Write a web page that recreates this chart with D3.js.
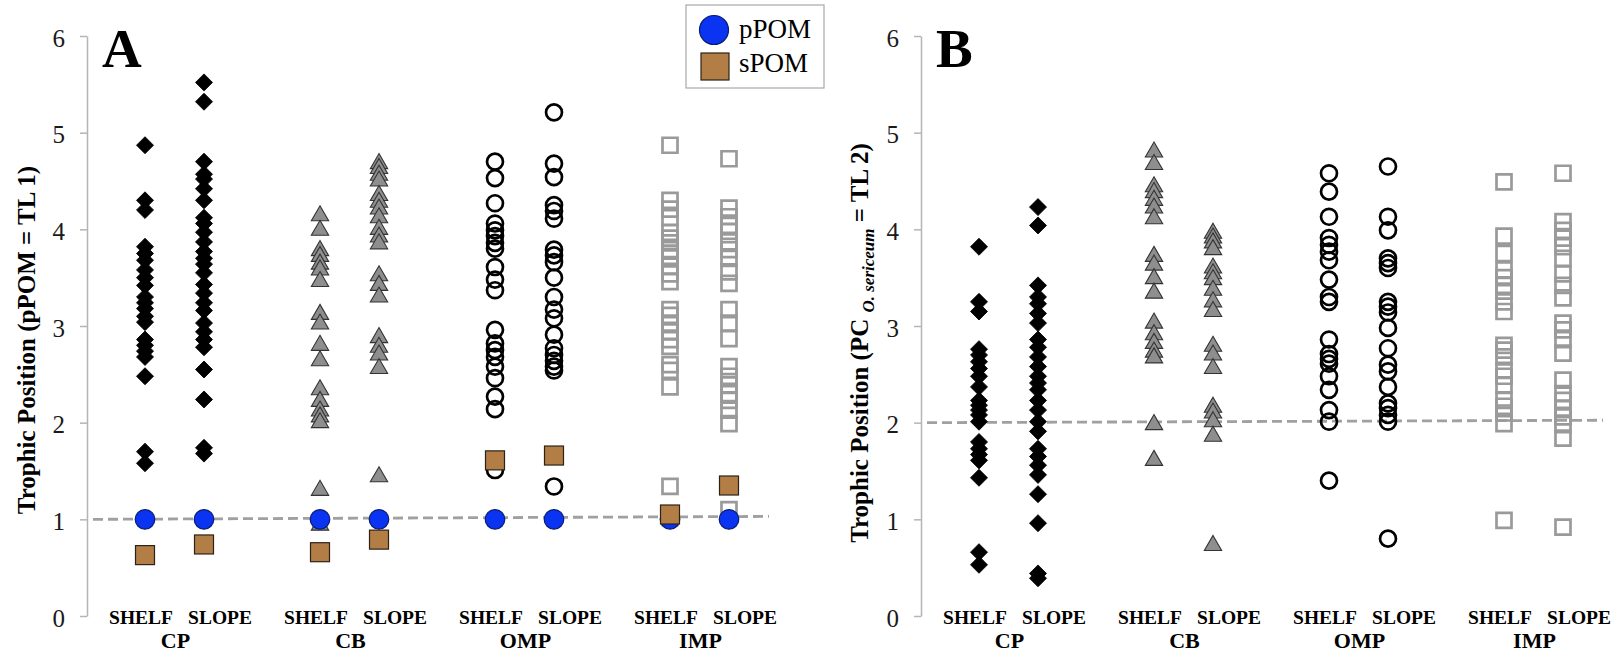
<!DOCTYPE html>
<html>
<head>
<meta charset="utf-8">
<script src="https://cdn.jsdelivr.net/npm/d3@7"></script>
<style>
    body { margin: 0; background: #fff; }
    svg text { font-family: 'Liberation Serif', 'Times New Roman', serif; }
</style>
</head>
<body>
<svg id="chart"></svg>
<script>
const groups = ['CP', 'CB', 'OMP', 'IMP'];
const zones = ['SHELF', 'SLOPE'];
const yTicks = [0, 1, 2, 3, 4, 5, 6];

// panel A : pPOM = TL 1
const cpShelfA = [4.87, 4.30, 4.20, 3.82, 3.75, 3.68, 3.58, 3.50, 3.42, 3.30, 3.24, 3.18, 3.10, 3.04, 2.86, 2.80, 2.74, 2.68, 2.48, 1.70, 1.58];
const cpSlopeA = [5.52, 5.32, 4.70, 4.57, 4.52, 4.42, 4.30, 4.12, 4.06, 3.97, 3.87, 3.77, 3.70, 3.64, 3.55, 3.43, 3.34, 3.24, 3.16, 3.03, 2.94, 2.86, 2.78, 2.55, 2.24, 1.74, 1.68];
const cbShelfA = [4.14, 3.99, 3.78, 3.72, 3.64, 3.58, 3.46, 3.12, 3.02, 2.80, 2.64, 2.34, 2.22, 2.12, 2.06, 2.00, 1.30, 0.94];
const cbSlopeA = [4.68, 4.63, 4.56, 4.50, 4.35, 4.28, 4.21, 4.12, 4.00, 3.92, 3.85, 3.52, 3.42, 3.30, 2.88, 2.78, 2.70, 2.56, 1.44];
const ompShelfA = [4.70, 4.53, 4.27, 4.06, 3.99, 3.93, 3.86, 3.80, 3.61, 3.48, 3.37, 2.96, 2.82, 2.75, 2.68, 2.58, 2.46, 2.27, 2.14, 1.51];
const ompSlopeA = [5.21, 4.68, 4.54, 4.25, 4.19, 4.11, 3.79, 3.73, 3.66, 3.50, 3.30, 3.17, 3.08, 2.91, 2.77, 2.70, 2.64, 2.58, 2.54, 1.34];
const impShelfA = [4.87, 4.30, 4.21, 4.12, 3.97, 3.91, 3.86, 3.79, 3.72, 3.62, 3.54, 3.46, 3.17, 3.11, 3.03, 2.94, 2.86, 2.79, 2.60, 2.54, 2.37, 1.34, 1.02];
const impSlopeA = [4.73, 4.22, 4.13, 4.04, 3.98, 3.87, 3.79, 3.70, 3.56, 3.44, 3.17, 3.03, 2.87, 2.58, 2.48, 2.39, 2.30, 2.23, 2.13, 1.99, 1.10];
const ppomA = [1, 1, 1, 1, 1, 1, 1, 1];
const spomA = [0.63, 0.74, 0.66, 0.79, 1.61, 1.66, 1.05, 1.35];
const refA = [1.0, 1.03];

// panel B : PC O. sericeum = TL 2
const cpShelfB = [3.82, 3.25, 3.15, 2.76, 2.70, 2.63, 2.56, 2.48, 2.37, 2.23, 2.18, 2.13, 2.08, 2.01, 1.80, 1.73, 1.67, 1.61, 1.43, 0.66, 0.53];
const cpSlopeB = [4.23, 4.04, 3.42, 3.30, 3.23, 3.13, 3.03, 2.86, 2.78, 2.68, 2.58, 2.48, 2.41, 2.34, 2.23, 2.13, 2.01, 1.91, 1.73, 1.65, 1.56, 1.46, 1.26, 0.96, 0.44, 0.39];
const cbShelfB = [4.80, 4.67, 4.44, 4.38, 4.30, 4.22, 4.11, 3.72, 3.63, 3.49, 3.34, 3.03, 2.91, 2.82, 2.73, 2.67, 1.98, 1.61];
const cbSlopeB = [3.96, 3.91, 3.86, 3.79, 3.60, 3.54, 3.48, 3.37, 3.25, 3.15, 2.79, 2.70, 2.56, 2.16, 2.10, 2.01, 1.86, 0.73];
const ompShelfB = [4.58, 4.39, 4.13, 3.91, 3.84, 3.77, 3.68, 3.48, 3.30, 3.25, 2.86, 2.71, 2.66, 2.61, 2.48, 2.34, 2.13, 2.01, 1.40];
const ompSlopeB = [4.65, 4.13, 3.99, 3.70, 3.65, 3.60, 3.25, 3.20, 3.14, 2.98, 2.77, 2.60, 2.53, 2.37, 2.20, 2.15, 2.08, 2.01, 0.80];
const impShelfB = [4.49, 3.93, 3.75, 3.58, 3.50, 3.42, 3.36, 3.25, 3.15, 2.80, 2.75, 2.68, 2.54, 2.48, 2.39, 2.23, 2.17, 2.10, 1.99, 0.99];
const impSlopeB = [4.58, 4.08, 3.99, 3.91, 3.82, 3.70, 3.54, 3.42, 3.29, 3.03, 2.96, 2.86, 2.72, 2.44, 2.30, 2.23, 2.15, 2.06, 1.98, 1.84, 0.92];
const refB = [2.0, 2.025];

const legendItems = ['pPOM', 'sPOM'];

function toColumns(lists) {
    return groups.flatMap((g, i) => zones.map((z, j) => ({ group: g, zone: z, values: lists[i * 2 + j] })));
}

const blue = '#0b34f2';
const brown = '#b37d46';

class TrophicPlot {

    constructor(config, data) {
        this.config = {
            parent: config.parent,
            left: config.left,
            right: config.right,
            top: config.top || 36,
            bottom: config.bottom || 616,
            letter: config.letter,
            ylabel: config.ylabel,
            ylabelX: config.ylabelX,
            ylabelY: config.ylabelY,
            ref: config.ref,
            pPOM: config.pPOM,
            sPOM: config.sPOM
        }
        this.data = data;
        this.init();
    }

    init() {
        let self = this;
        let c = self.config;

        self.chart = d3.select(c.parent).append('g');

        self.yscale = d3.scaleLinear()
            .domain([0, 6])
            .range([c.bottom, c.top]);

        self.gscale = d3.scaleBand()
            .domain(groups)
            .range([c.left, c.right]);

        self.zscale = d3.scalePoint()
            .domain(zones)
            .range([58, 117]);

        self.xpos = (g, z) => self.gscale(g) + self.zscale(z);

        self.yaxis = d3.axisLeft(self.yscale)
            .tickValues(yTicks)
            .tickFormat(d3.format('d'))
            .tickSize(7)
            .tickPadding(15)
            .tickSizeOuter(0);

        self.yaxis_group = self.chart.append('g')
            .attr('transform', `translate(${c.left}, 0)`);

        // panel letter
        self.chart.append('text')
            .attr('x', c.left + 15)
            .attr('y', 67)
            .attr('font-size', 55)
            .attr('font-weight', 'bold')
            .text(c.letter);

        // y label
        let lab = self.chart.append('text')
            .attr('transform', `translate(${c.ylabelX}, ${c.ylabelY}) rotate(-90)`)
            .attr('text-anchor', 'middle')
            .attr('font-size', 25)
            .attr('font-weight', 'bold')
            .style('white-space', 'pre');
        c.ylabel.forEach(p => {
            let t = lab.append('tspan').text(p.t);
            if (p.sub) t.attr('font-size', 17).attr('font-style', 'italic').attr('dy', 6);
            else if (p.after) t.attr('dy', -6);
        });
    }

    update() {
        let self = this;
        self.points = self.data.flatMap(col => col.values.map(v => ({ group: col.group, zone: col.zone, v: v })));
        self.render();
    }

    render() {
        let self = this;
        let c = self.config;

        self.yaxis_group.call(self.yaxis);
        self.yaxis_group.attr('font-size', null).attr('font-family', null);
        self.yaxis_group.select('.domain').attr('stroke', '#b5b5b5').attr('stroke-width', 1.5);
        self.yaxis_group.selectAll('.tick line').attr('stroke', '#b5b5b5').attr('stroke-width', 1.5);
        self.yaxis_group.selectAll('.tick text')
            .style('font-size', '25px')
            .attr('fill', '#1a1a1a')
            .attr('dy', '0.4em');

        // reference dashed line
        self.chart.append('line')
            .attr('x1', c.left + 6)
            .attr('x2', c.right - 18)
            .attr('y1', self.yscale(c.ref[0]))
            .attr('y2', self.yscale(c.ref[1]))
            .attr('stroke', '#a0a0a0')
            .attr('stroke-width', 2.8)
            .attr('stroke-dasharray', '10,5');

        const shapes = {
            CP: { path: d3.symbol(d3.symbolSquare, 145)(), rot: 45, fill: '#000', stroke: '#000', sw: 0.8 },
            CB: { path: d3.symbol(d3.symbolTriangle, 130)(), rot: 0, fill: '#8e8e8e', stroke: '#333', sw: 1.1 },
            OMP: { path: d3.symbol(d3.symbolCircle, 200)(), rot: 0, fill: 'none', stroke: '#000', sw: 2.7 },
            IMP: { path: d3.symbol(d3.symbolSquare, 225)(), rot: 0, fill: 'none', stroke: '#9a9a9a', sw: 2.7 }
        };

        self.chart.append('g').selectAll('path')
            .data(self.points)
            .join('path')
            .attr('d', d => shapes[d.group].path)
            .attr('transform', d => `translate(${self.xpos(d.group, d.zone)}, ${self.yscale(d.v)}) rotate(${shapes[d.group].rot})`)
            .attr('fill', d => shapes[d.group].fill)
            .attr('stroke', d => shapes[d.group].stroke)
            .attr('stroke-width', d => shapes[d.group].sw);

        let cols = groups.flatMap(g => zones.map(z => ({ group: g, zone: z })));

        if (c.pPOM) {
            self.chart.append('g').selectAll('circle')
                .data(cols)
                .join('circle')
                .attr('cx', d => self.xpos(d.group, d.zone))
                .attr('cy', (d, i) => self.yscale(c.pPOM[i]))
                .attr('r', 9.8)
                .attr('fill', blue)
                .attr('stroke', '#0a1b70')
                .attr('stroke-width', 1.2);
        }
        if (c.sPOM) {
            const s = 19;
            self.chart.append('g').selectAll('rect')
                .data(cols)
                .join('rect')
                .attr('x', d => self.xpos(d.group, d.zone) - s / 2)
                .attr('y', (d, i) => self.yscale(c.sPOM[i]) - s / 2)
                .attr('width', s)
                .attr('height', s)
                .attr('fill', brown)
                .attr('stroke', '#2b2317')
                .attr('stroke-width', 1.2);
        }

        // category labels
        let lab = self.chart.append('g').attr('font-weight', 'bold').attr('text-anchor', 'middle');
        groups.forEach(g => {
            let mid = self.gscale(g) + self.gscale.bandwidth() / 2;
            zones.forEach((z, j) => {
                lab.append('text')
                    .attr('x', mid + 6 + (j === 0 ? -39.5 : 39.5))
                    .attr('y', 624)
                    .attr('font-size', 19.5)
                    .text(z);
            });
            lab.append('text')
                .attr('x', mid + 1)
                .attr('y', 648)
                .attr('font-size', 22)
                .text(g);
        });
    }
}

let svg = d3.select('#chart')
    .attr('width', 1623)
    .attr('height', 657);

let plotA = new TrophicPlot({
    parent: '#chart',
    left: 87,
    right: 787,
    letter: 'A',
    ylabel: [{ t: 'Trophic Position (pPOM = TL 1)' }],
    ylabelX: 35,
    ylabelY: 340,
    ref: refA,
    pPOM: ppomA,
    sPOM: spomA
}, toColumns([cpShelfA, cpSlopeA, cbShelfA, cbSlopeA, ompShelfA, ompSlopeA, impShelfA, impSlopeA]));
plotA.update();

let plotB = new TrophicPlot({
    parent: '#chart',
    left: 921,
    right: 1621,
    letter: 'B',
    ylabel: [{ t: 'Trophic Position (PC ' }, { t: 'O. sericeum', sub: true }, { t: ' = TL 2)', after: true }],
    ylabelX: 868,
    ylabelY: 343,
    ref: refB
}, toColumns([cpShelfB, cpSlopeB, cbShelfB, cbSlopeB, ompShelfB, ompSlopeB, impShelfB, impSlopeB]));
plotB.update();

// legend
let legend = svg.append('g');
legend.append('rect')
    .attr('x', 686).attr('y', 5)
    .attr('width', 138).attr('height', 83)
    .attr('fill', '#fff')
    .attr('stroke', '#a8a8a8')
    .attr('stroke-width', 1.2);
legend.append('circle')
    .attr('cx', 714).attr('cy', 30).attr('r', 14.5)
    .attr('fill', blue).attr('stroke', '#0a1b70').attr('stroke-width', 1.2);
legend.append('rect')
    .attr('x', 701).attr('y', 53).attr('width', 28).attr('height', 27)
    .attr('fill', brown).attr('stroke', '#2b2317').attr('stroke-width', 1.2);
legend.selectAll('text.lg')
    .data(legendItems)
    .join('text')
    .attr('class', 'lg')
    .attr('x', 739)
    .attr('y', (d, i) => 38 + i * 34)
    .attr('font-size', 27)
    .text(d => d);
</script>
</body>
</html>
